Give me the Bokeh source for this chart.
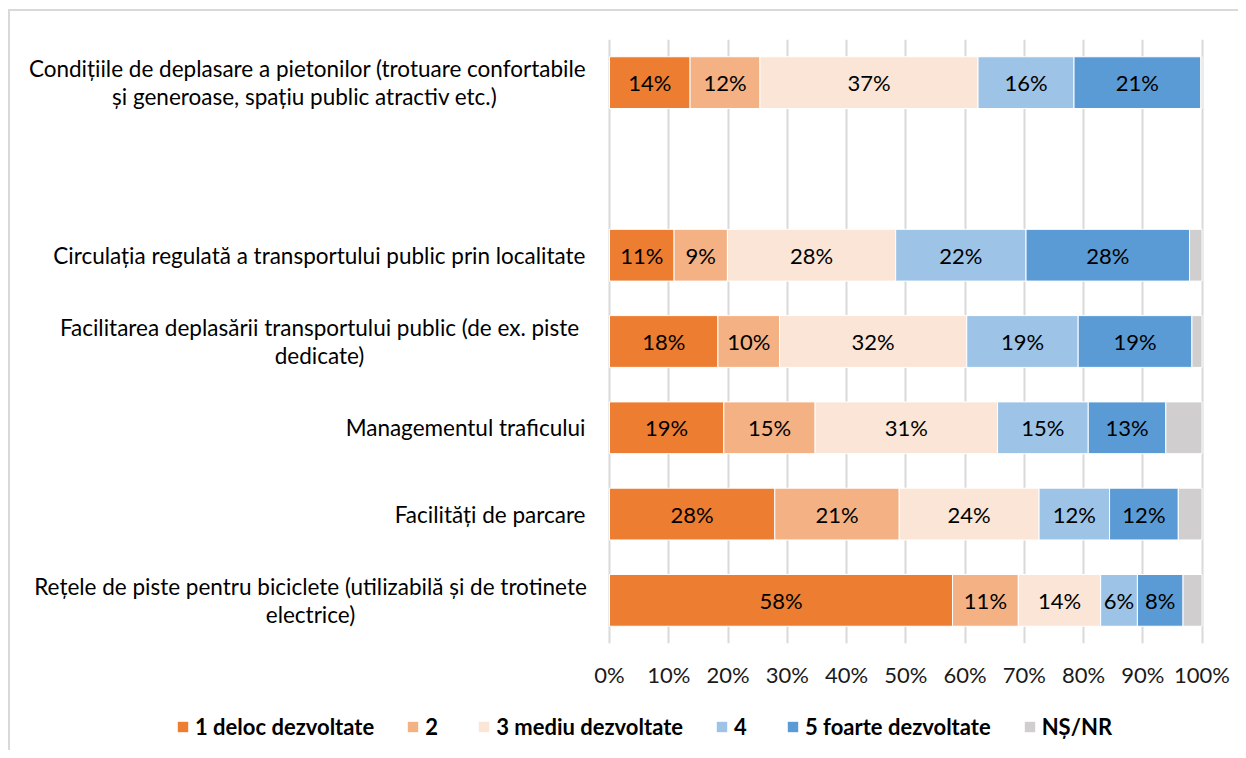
from bokeh.plotting import figure
from bokeh.layouts import column
from bokeh.models import FactorRange, FixedTicker, Legend, LegendItem, ColumnDataSource
from bokeh.core.properties import value
from bokeh.embed import file_html
from bokeh.resources import INLINE

# ---------------- data ----------------
categories = [
    "Condițiile de deplasare a pietonilor (trotuare confortabile\nși  generoase, spațiu public atractiv etc.)",
    "Circulația regulată a transportului public prin localitate",
    "Facilitarea deplasării transportului public (de ex. piste\ndedicate)",
    "Managementul traficului",
    "Facilități de parcare",
    "Rețele de piste pentru biciclete (utilizabilă și de trotinete\nelectrice)",
]
blank_row = " "
series_names = ["1 deloc dezvoltate", "2", "3 mediu dezvoltate", "4", "5 foarte dezvoltate", "NȘ/NR"]
s1 = [13.6, 10.9, 18.3, 19.3, 27.9, 57.9]
s2 = [11.8, 9.0, 10.4, 15.4, 21.0, 11.1]
s3 = [36.8, 28.4, 31.6, 30.8, 23.6, 13.9]
s4 = [16.2, 22.0, 18.8, 15.3, 11.9, 6.2]
s5 = [21.4, 27.6, 19.2, 13.1, 11.6, 7.7]
s6 = [0.2, 2.1, 1.7, 6.1, 4.0, 3.2]
tick_values = [0, 10, 20, 30, 40, 50, 60, 70, 80, 90, 100]
tick_labels = ["0%", "10%", "20%", "30%", "40%", "50%", "60%", "70%", "80%", "90%", "100%"]

# ---------------- styles ----------------
colors = ["#ED7D31", "#F4B183", "#FBE5D6", "#9DC3E6", "#5B9BD5", "#D0CECE"]
FONT = "Lato"
FS = "22px"
CAT_FS = "22.5px"
keys = ["s1", "s2", "s3", "s4", "s5", "s6"]
all_series = [s1, s2, s3, s4, s5, s6]

# row order top -> bottom, with an empty row after the first one
rows_top_down = [categories[0], blank_row] + categories[1:]
factors = list(reversed(rows_top_down))

# pixel geometry: 0% at page x=609, 100% at 1201.5; canvas starts at page x=10
px_per_unit = (1201.5 - 609) / 100.0
canvas_left_page = 10
W, H = 1228, 689
LEG_H = 50
x_start = -(609 - canvas_left_page) / px_per_unit
x_end = x_start + W / px_per_unit

p = figure(width=W, height=H, output_backend="svg", toolbar_location=None,
           x_range=(x_start, x_end), y_range=FactorRange(factors=factors, range_padding=0),
           min_border_left=0, min_border_right=0, min_border_top=28, min_border_bottom=57)
p.outline_line_color = None
p.background_fill_color = "white"
p.border_fill_color = "white"

src = ColumnDataSource(dict(cat=categories, s1=s1, s2=s2, s3=s3, s4=s4, s5=s5, s6=s6))
renderers = p.hbar_stack(keys, y="cat", height=0.6, color=colors, source=src,
                         line_color="white", line_width=1)

# value labels inside the bars
lx, ly, lt = [], [], []
for i, cat in enumerate(categories):
    left = 0.0
    for k in range(5):
        v = all_series[k][i]
        lx.append(left + v / 2.0)
        ly.append(cat)
        lt.append(f"{round(v)}%")
        left += v
p.text(x=lx, y=ly, text=lt, text_align="center", text_baseline="middle",
       text_font=value(FONT), text_font_size=FS, text_color="#000000")

# category labels
single = [c for c in categories if "\n" not in c]
multi = [c for c in categories if "\n" in c]
right_edge = (585 - 609) / px_per_unit
p.text(x=[right_edge] * len(single), y=single, text=single, text_align="right",
       text_baseline="middle", text_font=value(FONT), text_font_size=CAT_FS, text_color="#000000")
multi_centers_page = [307, 319, 310]
mx = [(c - 609) / px_per_unit for c in multi_centers_page]
p.text(x=mx, y=multi, text=multi, text_align="center", text_baseline="middle",
       text_font=value(FONT), text_font_size=CAT_FS, text_color="#000000", text_line_height=1.03)

# axes & grid
p.yaxis.visible = False
ticker = FixedTicker(ticks=tick_values)
p.xaxis.ticker = ticker
p.xaxis.major_label_overrides = dict(zip(tick_values, tick_labels))
p.xaxis.axis_line_color = None
p.xaxis.major_tick_line_color = None
p.xaxis.minor_tick_line_color = None
p.xaxis.major_label_standoff = 11
p.xaxis.major_label_text_font = FONT
p.xaxis.major_label_text_font_size = FS
p.xaxis.major_label_text_color = "#1a1a1a"
p.xgrid.ticker = ticker
p.xgrid.grid_line_color = "#d9d9d9"
p.xgrid.grid_line_width = 2
p.ygrid.grid_line_color = None

# legend strip (separate small figure holding legend swatches of the same colours,
# the swatch glyphs sit outside the strip's visible range)
lg = figure(width=W, height=LEG_H, output_backend="svg", toolbar_location=None,
            x_range=(0, 1), y_range=(0, 1), min_border_left=0, min_border_right=0,
            min_border_top=0, min_border_bottom=0)
lg.axis.visible = False
lg.grid.visible = False
lg.outline_line_color = None
swatches = [lg.hbar(y=[-10], right=[1], height=0.5, fill_color=c, line_color=None)
            for c in colors]
legend = Legend(items=[LegendItem(label=n, renderers=[r]) for n, r in zip(series_names, swatches)],
                orientation="horizontal", location=(166, 10), border_line_color=None,
                background_fill_alpha=0, glyph_width=13, glyph_height=13, label_standoff=6,
                spacing=32, padding=4, margin=0,
                label_text_font=FONT, label_text_font_size=FS, label_text_font_style="bold",
                label_text_color="#000000")
lg.add_layout(legend, "center")

layout = column(p, lg, spacing=0)
layout.styles = {"margin-left": "8px", "margin-top": "9px",
                 "border-left": "2px solid #d9d9d9", "border-top": "2px solid #d9d9d9"}

open("out.html", "w").write(file_html(layout, INLINE))
